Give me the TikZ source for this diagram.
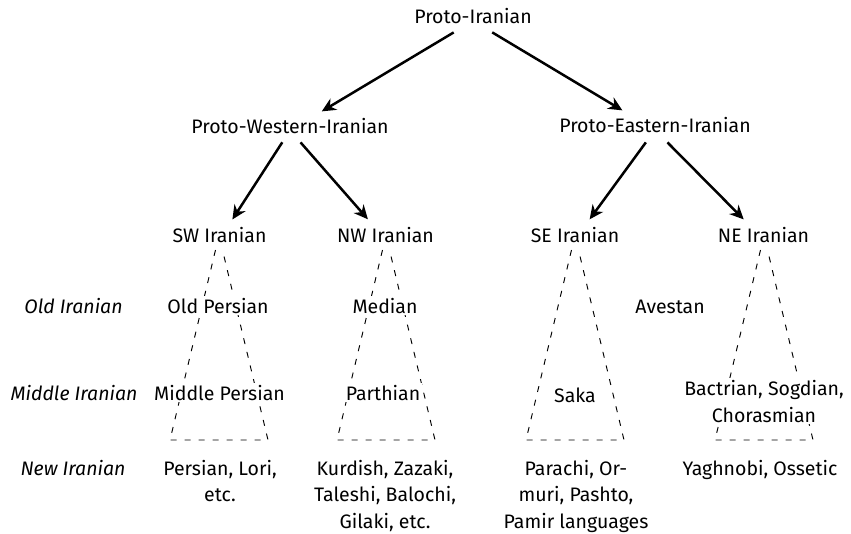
\documentclass[tikz,border=0pt]{standalone}
\usepackage{fontspec}
\setmainfont{Fira Sans}
\usetikzlibrary{arrows.meta}
\begin{document}
\begin{tikzpicture}[x=1pt,y=-1pt,
  lbl/.style={font=\fontsize{19.5}{26.5}\selectfont, anchor=base, inner sep=2pt, fill=white, align=center},
  era/.style={lbl, font=\fontsize{19.5}{26.5}\selectfont\itshape},
  arr/.style={line width=2.5pt, -{Stealth[length=14pt,width=13pt,inset=4.5pt]}},
  tri/.style={line width=0.95pt, black, dash pattern=on 6pt off 8pt}]
\useasboundingbox (0,0) rectangle (851,533);
\foreach \c in {219,386,575,764} {
  \draw[tri] (\c-3.5,250) -- (\c-49,440) -- (\c+49,440) -- (\c+3.5,250);
}
\node[lbl] (pi) at (473,23.5) {Proto-Iranian};
\node[lbl] (pw) at (290,133) {Proto-Western-Iranian};
\node[lbl] (pe) at (655,132.5) {Proto-Eastern-Iranian};
\node[lbl] (sw) at (219.5,242) {SW Iranian};
\node[lbl] (nw) at (385.5,242) {NW Iranian};
\node[lbl] (se) at (575,242) {SE Iranian};
\node[lbl] (ne) at (763.5,242) {NE Iranian};
\node[era] (old) at (73.5,313) {Old Iranian};
\node[lbl] (op) at (218,313) {Old Persian};
\node[lbl] (med) at (385,313) {Median};
\node[lbl] (av) at (670,313) {Avestan};
\node[era] (mid) at (74,400) {Middle Iranian};
\node[lbl] (mp) at (219.5,400) {Middle Persian};
\node[lbl] (par) at (383,400) {Parthian};
\node[lbl] (saka) at (575,402) {Saka};
\node[lbl] (bsc) at (764,422) {Bactrian, Sogdian,\\Chorasmian};
\node[era] (new) at (73,475) {New Iranian};
\node[lbl] (pers) at (220,501.5) {Persian, Lori,\\etc.};
\node[lbl] (kur) at (385,528) {Kurdish, Zazaki,\\Taleshi, Balochi,\\Gilaki, etc.};
\node[lbl] (par2) at (576,528) {Parachi, Or-\\muri, Pashto,\\Pamir languages};
\node[lbl] (yag) at (760,475) {Yaghnobi, Ossetic};
\draw[arr, shorten <=22.5pt, shorten >=37pt] (pi.mid) -- (pw.mid);
\draw[arr, shorten <=22.4pt, shorten >=38pt] (pi.mid) -- (pe.mid);
\draw[arr, shorten <=14.2pt, shorten >=23.7pt] (pw.mid) -- (sw.mid);
\draw[arr, shorten <=16pt, shorten >=26.7pt] (pw.mid) -- (nw.mid);
\draw[arr, shorten <=15.5pt, shorten >=24.8pt] (pe.mid) -- (se.mid);
\draw[arr, shorten <=17.6pt, shorten >=28.1pt] (pe.mid) -- (ne.mid);
\end{tikzpicture}
\end{document}
